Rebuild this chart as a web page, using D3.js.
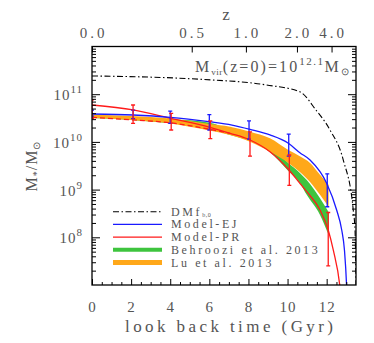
<!DOCTYPE html>
<html>
<head>
<meta charset="utf-8">
<script src="https://cdn.jsdelivr.net/npm/d3@7"></script>
<style>
  body { margin: 0; background: #fff; }
  svg { display: block; }
  text { font-family: "Liberation Serif", serif; fill: #555; }
</style>
</head>
<body>
<svg id="chart" width="374" height="343"></svg>
<script>
// values: look back time (Gyr) and log10(M*/Msun)
const ejT = [0, 2.1, 3.99, 5.98, 7.16, 8.08, 9.1, 10.04, 10.63, 11.15, 12.0, 12.51, 12.77, 12.91, 13.02, 13.06];
const ejLog = [10.585, 10.564, 10.516, 10.424, 10.354, 10.264, 10.145, 9.971, 9.774, 9.62, 9.132, 8.572, 8.153, 7.73, 6.97, 6.5];

const prT = [0, 2.1, 4.02, 6.03, 7.06, 8.08, 9.1, 10.04, 10.63, 10.98, 11.66, 12.08, 12.34, 12.68, 12.72];
const prLog = [10.774, 10.67, 10.495, 10.306, 10.18, 10.04, 9.795, 9.426, 9.132, 8.956, 8.572, 8.153, 7.73, 6.96, 6.8];

const prDashT = [0, 2.1, 4.02, 6.03, 7.06];
const prDashLog = [10.516, 10.46, 10.4, 10.264, 10.18];

const dmT = [0, 5.52, 8.93, 10.63, 11.45, 12.17, 12.85, 13.36, 13.45, 13.5];
const dmLog = [11.382, 11.313, 11.193, 11.05, 10.67, 10.25, 9.62, 8.57, 8.15, 7.0];

const luT = [0, 2, 4, 6, 7.06, 8.08, 9.1, 10.04, 10.63, 11.15, 11.66, 12.1];
const luHi = [10.574, 10.543, 10.49, 10.375, 10.319, 10.214, 10.075, 9.83, 9.7, 9.56, 9.31, 9.1];
const luLo = [10.5, 10.46, 10.386, 10.239, 10.145, 10.004, 9.795, 9.56, 9.37, 9.16, 8.89, 8.64];

const beT = [0, 2, 4, 6.03, 7.06, 8.08, 9.1, 10.04, 10.63, 10.98, 11.66, 12.1];
const beHi = [10.553, 10.52, 10.48, 10.4, 10.25, 10.1, 9.9, 9.56, 9.35, 9.2, 8.82, 8.53];
const beLo = [10.5, 10.46, 10.39, 10.27, 10.145, 10.02, 9.79, 9.39, 9.14, 8.89, 8.47, 8.05];

// error bars
const ejErrT = [0, 2.1, 4.0, 6.0, 8.03, 10.06, 12.03];
const ejErrLo = [10.542, 10.488, 10.39, 10.25, 10.06, 9.7, 8.64];
const ejErrHi = [10.668, 10.668, 10.647, 10.572, 10.44, 10.165, 9.33];
const prErrT = [0, 2.1, 4.05, 6.05, 8.08, 10.09, 12.08];
const prErrLo = [10.495, 10.39, 10.25, 10.07, 9.7, 9.09, 7.4];
const prErrHi = [10.88, 10.774, 10.6, 10.44, 10.21, 9.725, 8.52];

const xTicks = [0, 2, 4, 6, 8, 10, 12];
const zLabels = ["0.0", "0.5", "1.0", "2.0", "4.0"];
const zLookback = [0, 5.1, 7.87, 10.48, 12.25];
const yExponents = [8, 9, 10, 11];

const legendLabels = ["DMf", "Model-EJ", "Model-PR", "Behroozi et al. 2013", "Lu et al. 2013"];

const svg = d3.select("#chart");
const pLeft = 92, pRight = 356, pTop = 46.5, pBottom = 285;

const x = d3.scaleLinear().domain([0, 13.5]).range([pLeft, pRight]);
const y = d3.scaleLog().domain([1e7, 1e12]).range([pBottom, pTop]);
const ly = v => y(Math.pow(10, v));

svg.append("clipPath").attr("id", "plot")
  .append("rect").attr("x", pLeft).attr("y", pTop).attr("width", pRight - pLeft).attr("height", pBottom - pTop);

const g = svg.append("g").attr("clip-path", "url(#plot)");

const zip = (t, v) => t.map((d, i) => [d, v[i]]);
const band = (t, lo, hi) => t.map((d, i) => ({ t: d, lo: lo[i], hi: hi[i] }));

const line = d3.line().x(d => x(d[0])).y(d => ly(d[1])).curve(d3.curveMonotoneX);
const area = d3.area().x(d => x(d.t)).y0(d => ly(d.lo)).y1(d => ly(d.hi)).curve(d3.curveMonotoneX);

// bands: green under orange
g.append("path").datum(band(beT, beLo, beHi)).attr("d", area).attr("fill", "#3ec43e");
g.append("path").datum(band(luT, luLo, luHi)).attr("d", area).attr("fill", "#ffa81a");

g.append("path").datum(zip(dmT, dmLog)).attr("d", line)
  .attr("fill", "none").attr("stroke", "#000").attr("stroke-width", 1.1)
  .attr("stroke-dasharray", "6,2.5,1.5,2.5");
g.append("path").datum(zip(prDashT, prDashLog)).attr("d", line)
  .attr("fill", "none").attr("stroke", "#ff1a1a").attr("stroke-width", 1.3)
  .attr("stroke-dasharray", "5,3");
g.append("path").datum(zip(prT, prLog)).attr("d", line)
  .attr("fill", "none").attr("stroke", "#ff1a1a").attr("stroke-width", 1.3);
g.append("path").datum(zip(ejT, ejLog)).attr("d", line)
  .attr("fill", "none").attr("stroke", "#1a1aff").attr("stroke-width", 1.3);

function errorBars(ts, lo, hi, color) {
  const eg = g.append("g").attr("stroke", color).attr("stroke-width", 1.3);
  ts.forEach((t, i) => {
    const cx = x(t);
    eg.append("line").attr("x1", cx).attr("x2", cx).attr("y1", ly(lo[i])).attr("y2", ly(hi[i]));
    eg.append("line").attr("x1", cx - 2).attr("x2", cx + 2).attr("y1", ly(lo[i])).attr("y2", ly(lo[i]));
    eg.append("line").attr("x1", cx - 2).attr("x2", cx + 2).attr("y1", ly(hi[i])).attr("y2", ly(hi[i]));
  });
}
errorBars(ejErrT, ejErrLo, ejErrHi, "#1a1aff");
errorBars(prErrT, prErrLo, prErrHi, "#ff1a1a");

// frame and ticks
const minorY = [];
for (let e = 7; e < 12; e++) for (let k = 2; k <= 9; k++) minorY.push(k * Math.pow(10, e));
const majorY = yExponents.map(e => Math.pow(10, e));
const minorX = d3.range(0, 13.5, 0.5).filter(v => v % 2 !== 0);

function tickAxis(axis, transform) {
  const a = svg.append("g").attr("transform", transform).call(axis);
  a.select(".domain").remove();
  a.selectAll("text").remove();
  a.selectAll("line").attr("stroke", "#000").attr("stroke-width", 1);
}
tickAxis(d3.axisLeft(y).tickValues(majorY).tickSize(-8), `translate(${pLeft},0)`);
tickAxis(d3.axisLeft(y).tickValues(minorY).tickSize(-4), `translate(${pLeft},0)`);
tickAxis(d3.axisRight(y).tickValues(majorY).tickSize(-8), `translate(${pRight},0)`);
tickAxis(d3.axisRight(y).tickValues(minorY).tickSize(-4), `translate(${pRight},0)`);
tickAxis(d3.axisBottom(x).tickValues(xTicks).tickSize(-6), `translate(0,${pBottom})`);
tickAxis(d3.axisBottom(x).tickValues(minorX).tickSize(-3), `translate(0,${pBottom})`);
tickAxis(d3.axisTop(x).tickValues(zLookback).tickSize(-6), `translate(0,${pTop})`);

svg.append("rect").attr("x", pLeft).attr("y", pTop).attr("width", pRight - pLeft).attr("height", pBottom - pTop)
  .attr("fill", "none").attr("stroke", "#000").attr("stroke-width", 1.3);

// tick labels
svg.append("g").selectAll("text").data(xTicks).join("text")
  .attr("x", d => x(d) + 0.5).attr("y", 312).attr("text-anchor", "middle")
  .attr("font-size", 15).attr("letter-spacing", 1).text(d => d);

svg.append("g").selectAll("text").data(zLookback).join("text")
  .attr("x", d => x(d) + 1.5).attr("y", 38).attr("text-anchor", "middle")
  .attr("font-size", 15).attr("letter-spacing", 3).text((d, i) => zLabels[i]);

const yl = svg.append("g").selectAll("text").data(yExponents).join("text")
  .attr("x", 83).attr("y", d => y(Math.pow(10, d)) + 6).attr("text-anchor", "end")
  .attr("font-size", 15).attr("letter-spacing", 1);
yl.append("tspan").text("10");
yl.append("tspan").attr("dy", -7).attr("font-size", 11).text(d => d);

// axis titles
svg.append("text").attr("x", 229).attr("y", 332).attr("text-anchor", "middle")
  .attr("font-size", 17).attr("textLength", 208).attr("lengthAdjust", "spacing")
  .text("look back time (Gyr)");
svg.append("text").attr("x", 226).attr("y", 20).attr("text-anchor", "middle")
  .attr("font-size", 17).text("z");

const ylab = svg.append("text").attr("transform", "translate(37,166) rotate(-90)")
  .attr("text-anchor", "middle").attr("font-size", 16).attr("letter-spacing", 1);
ylab.append("tspan").text("M");
ylab.append("tspan").attr("dy", 3).attr("font-size", 10).text("*");
ylab.append("tspan").attr("dy", -3).text("/M");
ylab.append("tspan").attr("dy", 3).attr("font-size", 10).text("\u2299");

const ann = svg.append("text").attr("x", 351).attr("y", 72).attr("text-anchor", "end")
  .attr("font-size", 16).attr("letter-spacing", 2.1);
ann.append("tspan").text("M");
ann.append("tspan").attr("dy", 3).attr("font-size", 9).attr("letter-spacing", 0.5).text("vir");
ann.append("tspan").attr("dy", -3).text("(z=0)=10");
ann.append("tspan").attr("dy", -7).attr("font-size", 11).attr("letter-spacing", 1.5).text("12.1");
ann.append("tspan").attr("dy", 7).text("M");
ann.append("tspan").attr("dy", 3).attr("font-size", 10).text("\u2299");

// legend
const legendStyles = [
  { stroke: "#000", width: 1.1, dash: "6,2.5,1.5,2.5" },
  { stroke: "#1a1aff", width: 1.3, dash: null },
  { stroke: "#ff1a1a", width: 1.3, dash: null },
  { stroke: "#3ec43e", width: 4, dash: null },
  { stroke: "#ffa81a", width: 5, dash: null }
];
const lg = svg.append("g");
legendLabels.forEach((label, i) => {
  const yy = 211.7 + i * 12.7;
  const st = legendStyles[i];
  lg.append("line").attr("x1", 113).attr("x2", 162).attr("y1", yy).attr("y2", yy)
    .attr("stroke", st.stroke).attr("stroke-width", st.width)
    .attr("stroke-dasharray", st.dash);
  const t = lg.append("text").attr("x", 171).attr("y", yy + 4)
    .attr("font-size", 12).attr("letter-spacing", 2.6).text(label);
  if (i === 0) t.append("tspan").attr("dy", 1).attr("font-size", 6).attr("letter-spacing", 0.5).text("b,0");
});
</script>
</body>
</html>
